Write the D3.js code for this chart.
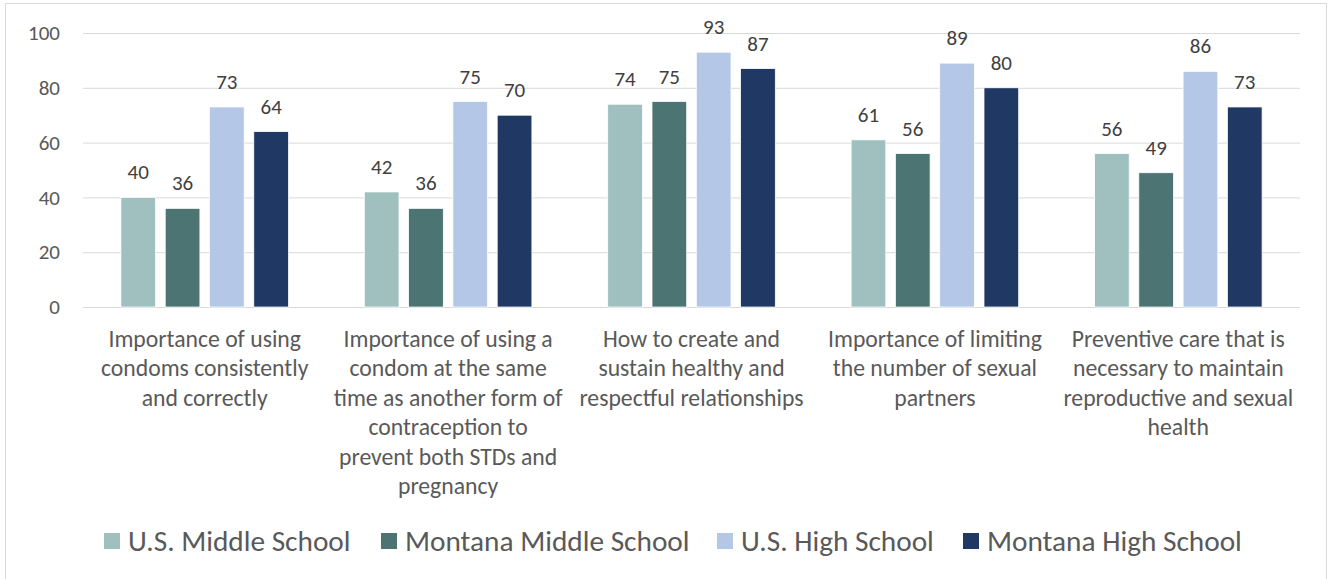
<!DOCTYPE html>
<html><head><meta charset="utf-8">
<script src="https://cdn.jsdelivr.net/npm/d3@7"></script>
<style>
html,body{margin:0;padding:0;background:#fff;}
svg{display:block;font-family:Carlito,Calibri,Lato,"Open Sans",sans-serif;}
</style></head>
<body><svg id="chart" width="1333" height="579"></svg>
<script>
const categoryLines = [
  ["Importance of using", "condoms consistently", "and correctly"],
  ["Importance of using a", "condom at the same", "time as another form of", "contraception to", "prevent both STDs and", "pregnancy"],
  ["How to create and", "sustain healthy and", "respectful relationships"],
  ["Importance of limiting", "the number of sexual", "partners"],
  ["Preventive care that is", "necessary to maintain", "reproductive and sexual", "health"]
];
const categories = categoryLines.map(l => l.join(" "));
const seriesNames = ["U.S. Middle School", "Montana Middle School", "U.S. High School", "Montana High School"];
const usMiddle      = [40, 42, 74, 61, 56];
const montanaMiddle = [36, 36, 75, 56, 49];
const usHigh        = [73, 75, 93, 89, 86];
const montanaHigh   = [64, 70, 87, 80, 73];
const yTicks = [0, 20, 40, 60, 80, 100];
const colors = ["#9fc0be", "#4b7472", "#b4c7e7", "#203864"];

const seriesValues = [usMiddle, montanaMiddle, usHigh, montanaHigh];
const svg = d3.select("#chart");
const FONT = 'Carlito, Calibri, Lato, "Open Sans", sans-serif';

// frame
svg.append("rect").attr("x", 5.5).attr("y", 3.5).attr("width", 1321).attr("height", 620)
  .attr("fill", "#fff").attr("stroke", "#d9d9d9").attr("stroke-width", 1);

const pLeft = 83, pRight = 1300, pTop = 33, pBottom = 307;
const y = d3.scaleLinear().domain([0, 100]).range([pBottom, pTop]);
const x0 = d3.scaleBand().domain(categories).range([pLeft, pRight]).paddingInner(0).paddingOuter(0);
const x1 = d3.scaleBand().domain(seriesNames).range([0, x0.bandwidth()]).paddingInner(0.217).paddingOuter(0.856);

// gridlines + y tick labels
const yAxis = d3.axisLeft(y).tickValues(yTicks).tickSize(-(pRight - pLeft)).tickPadding(23).tickFormat(d3.format("d"));
const ga = svg.append("g").attr("transform", `translate(${pLeft},0)`).call(yAxis).attr("font-family", FONT);
ga.select(".domain").remove();
ga.selectAll(".tick line").attr("stroke", "#d9d9d9").attr("stroke-width", 1);
ga.selectAll(".tick text").attr("fill", "#595959").style("font-size", "21px");

// bars
const groups = svg.append("g").selectAll("g").data(categories).join("g")
  .attr("transform", d => `translate(${x0(d)},0)`);
groups.each(function(cat, ci) {
  const g = d3.select(this);
  const data = seriesNames.map((s, si) => ({s, si, v: seriesValues[si][ci]}));
  g.selectAll("rect").data(data).join("rect")
    .attr("x", d => x1(d.s)).attr("width", x1.bandwidth())
    .attr("y", d => y(d.v)).attr("height", d => y(0) - y(d.v))
    .attr("fill", d => colors[d.si]).attr("stroke", "#fff").attr("stroke-width", 0.75);
  g.selectAll("text.val").data(data).join("text").attr("class", "val")
    .attr("x", d => x1(d.s) + x1.bandwidth() / 2).attr("y", d => y(d.v) - 18)
    .attr("text-anchor", "middle").attr("fill", "#404040").style("font-size", "21px")
    .text(d => d3.format("d")(d.v));
});

// category labels
const xAxis = d3.axisBottom(x0).tickSize(0).tickFormat("");
const gx = svg.append("g").attr("transform", `translate(0,${pBottom})`).call(xAxis).attr("font-family", FONT);
gx.select(".domain").remove();
gx.selectAll(".tick").each(function(cat, i) {
  const t = d3.select(this).append("text").attr("text-anchor", "middle")
    .attr("fill", "#595959").style("font-size", "23.7px");
  categoryLines[i].forEach((line, li) => {
    t.append("tspan").attr("x", 0).attr("y", 39.5 + li * 29.5).text(line);
  });
});

// legend
const legX = [104, 381, 717, 963];
const leg = svg.append("g").selectAll("g").data(seriesNames).join("g")
  .attr("transform", (d, i) => `translate(${legX[i]},0)`);
leg.append("rect").attr("x", 0).attr("y", 533).attr("width", 16).attr("height", 16)
  .attr("fill", (d, i) => colors[i]);
leg.append("text").attr("x", 24).attr("y", 551).attr("fill", "#595959")
  .style("font-size", "29.3px").text(d => d);
</script></body></html>
